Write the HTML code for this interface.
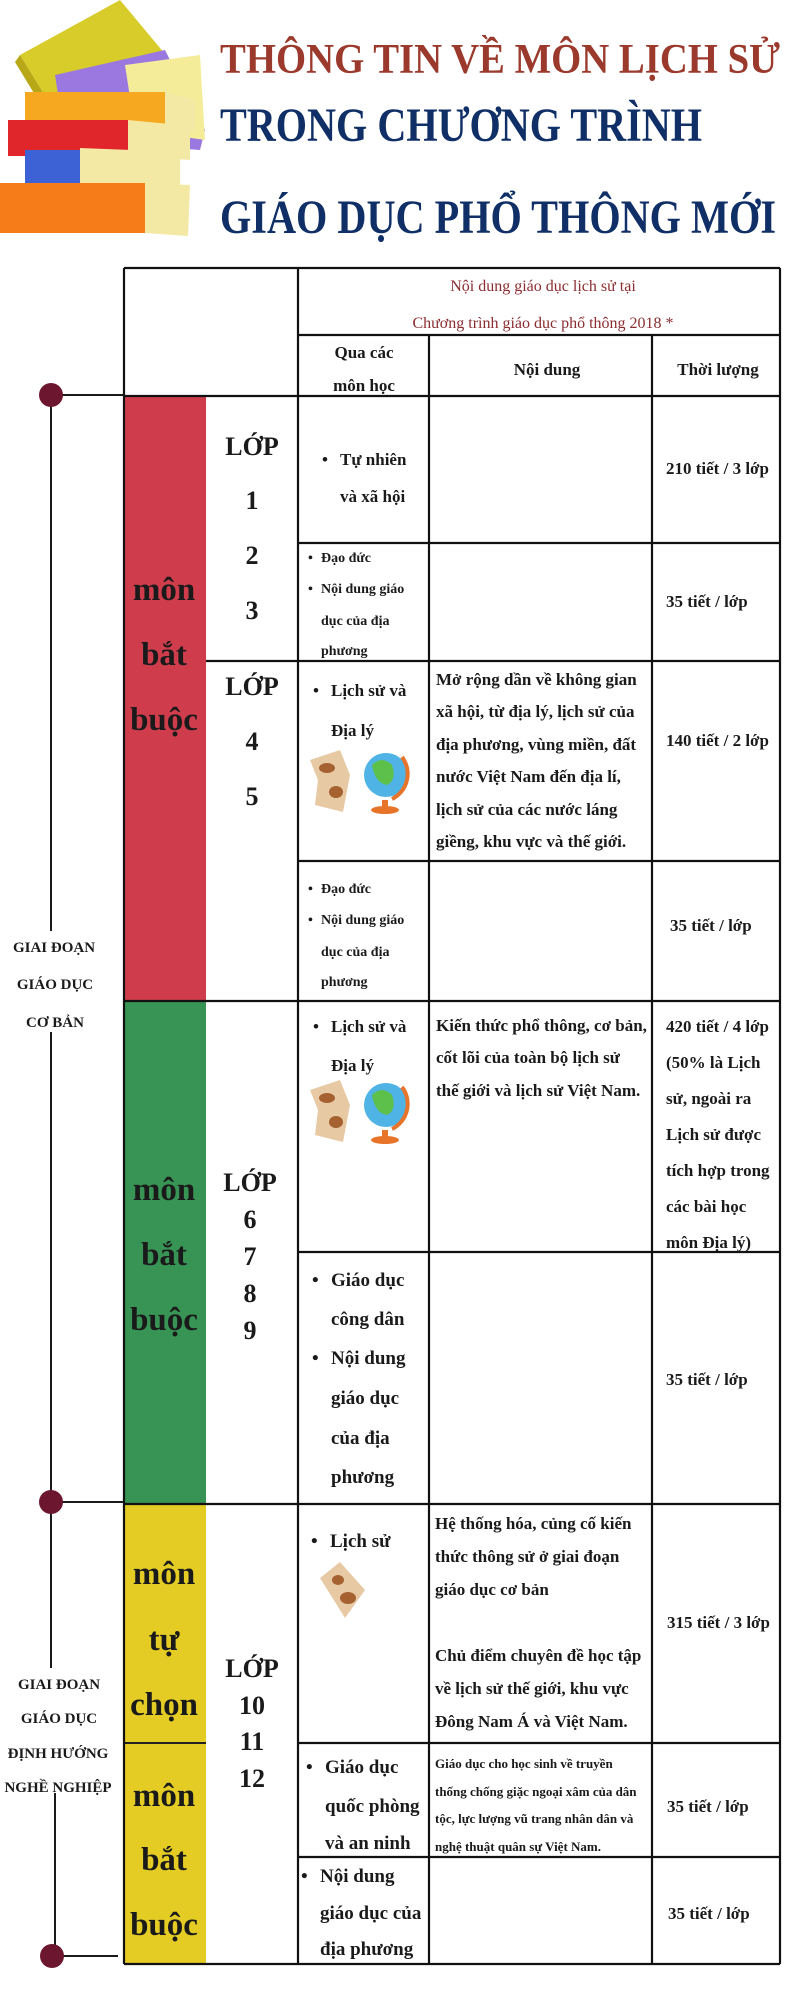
<!DOCTYPE html>
<html><head><meta charset="utf-8"><style>
html,body{margin:0;padding:0;background:#fff;width:800px;height:2000px;overflow:hidden}
svg{display:block}
text{font-family:"Liberation Serif",serif;font-weight:bold;fill:#1a1a1a}
.t{font-size:17px}
.b{font-size:19px}
.s{font-size:14px}
.x{font-size:13px}
.big{font-size:33px;text-anchor:middle}
.gr{font-size:26px;text-anchor:middle}
.lab{font-size:15px;text-anchor:middle}
</style></head><body>
<svg width="800" height="2000" viewBox="0 0 800 2000" xmlns="http://www.w3.org/2000/svg">
<!-- books -->
<g>
<polygon points="20,55 120,0 170,60 150,125 60,120" fill="#d8cc2a"/>
<polygon points="20,55 60,120 55,128 15,62" fill="#b8a818"/>
<polygon points="55,75 165,50 205,130 200,150 65,140" fill="#9a78e0"/>
<polygon points="125,65 200,55 205,140 135,130" fill="#f5ec9a"/>
<rect x="25" y="92" width="140" height="38" fill="#f5a820"/>
<polygon points="165,92 195,100 195,132 165,130" fill="#f3e9a4"/>
<rect x="8" y="120" width="120" height="36" fill="#e0262a"/>
<polygon points="128,120 190,126 190,160 128,156" fill="#f3e9a4"/>
<rect x="25" y="150" width="55" height="38" fill="#3d62d6"/>
<polygon points="80,148 180,152 180,188 80,186" fill="#f3e9a4"/>
<rect x="0" y="183" width="145" height="50" fill="#f57c18"/>
<polygon points="145,183 190,185 188,236 145,233" fill="#f3e9a4"/>
</g>
<!-- titles -->
<text x="220" y="73" font-size="42" textLength="560" lengthAdjust="spacingAndGlyphs" style="fill:#9b3a2c">THÔNG TIN VỀ MÔN LỊCH SỬ</text>
<text x="220" y="141" font-size="48" textLength="482" lengthAdjust="spacingAndGlyphs" style="fill:#0f2f66">TRONG CHƯƠNG TRÌNH</text>
<text x="220" y="233" font-size="48" textLength="556" lengthAdjust="spacingAndGlyphs" style="fill:#0f2f66">GIÁO DỤC PHỔ THÔNG MỚI</text>

<!-- colored bars -->
<rect x="123" y="396" width="83" height="605" fill="#cf3d4d"/>
<rect x="123" y="1001" width="83" height="503" fill="#379454"/>
<rect x="123" y="1504" width="83" height="460" fill="#e4cc24"/>
<line x1="123" y1="1743" x2="206" y2="1743" stroke="#222" stroke-width="2"/>

<!-- table lines -->
<g stroke="#111" stroke-width="2.2" fill="none">
<line x1="124" y1="268" x2="124" y2="1964"/>
<line x1="124" y1="268" x2="780" y2="268"/>
<line x1="298" y1="268" x2="298" y2="1964"/>
<line x1="780" y1="268" x2="780" y2="1964"/>
<line x1="298" y1="335" x2="780" y2="335"/>
<line x1="429" y1="335" x2="429" y2="1964"/>
<line x1="652" y1="335" x2="652" y2="1964"/>
<line x1="124" y1="396" x2="780" y2="396"/>
<line x1="298" y1="543" x2="780" y2="543"/>
<line x1="206" y1="661" x2="780" y2="661"/>
<line x1="298" y1="861" x2="780" y2="861"/>
<line x1="124" y1="1001" x2="780" y2="1001"/>
<line x1="298" y1="1252" x2="780" y2="1252"/>
<line x1="124" y1="1504" x2="780" y2="1504"/>
<line x1="298" y1="1743" x2="780" y2="1743"/>
<line x1="298" y1="1857" x2="780" y2="1857"/>
<line x1="124" y1="1964" x2="780" y2="1964"/>
</g>

<!-- timeline -->
<g stroke="#1a1a1a" stroke-width="2">
<line x1="51" y1="395" x2="124" y2="395"/>
<line x1="51" y1="1502" x2="124" y2="1502"/>
<line x1="51" y1="1956" x2="118" y2="1956"/>
<line x1="51" y1="395" x2="51" y2="931"/>
<line x1="51" y1="1032" x2="51" y2="1502"/>
<line x1="51" y1="1502" x2="51" y2="1668"/>
<line x1="55" y1="1793" x2="55" y2="1956"/>
</g>
<circle cx="51" cy="395" r="12" fill="#6d1630"/>
<circle cx="51" cy="1502" r="12" fill="#6d1630"/>
<circle cx="52" cy="1956" r="12" fill="#6d1630"/>
<text class="lab" x="54" y="952">GIAI ĐOẠN</text>
<text class="lab" x="55" y="989">GIÁO DỤC</text>
<text class="lab" x="55" y="1027">CƠ BẢN</text>
<text class="lab" x="59" y="1689">GIAI ĐOẠN</text>
<text class="lab" x="59" y="1723">GIÁO DỤC</text>
<text class="lab" x="58" y="1758">ĐỊNH HƯỚNG</text>
<text class="lab" x="58" y="1792">NGHỀ NGHIỆP</text>

<!-- header -->
<text x="543" y="291" font-size="16" text-anchor="middle" style="fill:#8a2c30;font-weight:normal">Nội dung giáo dục lịch sử tại</text>
<text x="543" y="328" font-size="16" text-anchor="middle" style="fill:#8a2c30;font-weight:normal">Chương trình giáo dục phổ thông 2018 *</text>
<text class="t" x="364" y="358" text-anchor="middle">Qua các</text>
<text class="t" x="364" y="391" text-anchor="middle">môn học</text>
<text class="t" x="547" y="375" text-anchor="middle">Nội dung</text>
<text class="t" x="718" y="375" text-anchor="middle">Thời lượng</text>

<!-- bar labels -->
<text class="big" x="164" y="600">môn</text>
<text class="big" x="164" y="665">bắt</text>
<text class="big" x="164" y="730">buộc</text>
<text class="big" x="164" y="1200">môn</text>
<text class="big" x="164" y="1265">bắt</text>
<text class="big" x="164" y="1330">buộc</text>
<text class="big" x="164" y="1584">môn</text>
<text class="big" x="164" y="1650">tự</text>
<text class="big" x="164" y="1715">chọn</text>
<text class="big" x="164" y="1806">môn</text>
<text class="big" x="164" y="1870">bắt</text>
<text class="big" x="164" y="1935">buộc</text>

<!-- grades -->
<text class="gr" x="252" y="455">LỚP</text>
<text class="gr" x="252" y="509">1</text>
<text class="gr" x="252" y="564">2</text>
<text class="gr" x="252" y="619">3</text>
<text class="gr" x="252" y="695">LỚP</text>
<text class="gr" x="252" y="750">4</text>
<text class="gr" x="252" y="805">5</text>
<text class="gr" x="250" y="1191">LỚP</text>
<text class="gr" x="250" y="1228">6</text>
<text class="gr" x="250" y="1265">7</text>
<text class="gr" x="250" y="1302">8</text>
<text class="gr" x="250" y="1339">9</text>
<text class="gr" x="252" y="1677">LỚP</text>
<text class="gr" x="252" y="1714">10</text>
<text class="gr" x="252" y="1750">11</text>
<text class="gr" x="252" y="1787">12</text>

<!-- row1 -->
<text class="t" x="322" y="465">•</text>
<text class="t" x="340" y="465">Tự nhiên</text>
<text class="t" x="340" y="502">và xã hội</text>
<text class="t" x="666" y="474">210 tiết / 3 lớp</text>
<!-- row2 -->
<text class="s" x="308" y="562">•</text><text class="s" x="321" y="562">Đạo đức</text>
<text class="s" x="308" y="593">•</text><text class="s" x="321" y="593">Nội dung giáo</text>
<text class="s" x="321" y="625">dục của địa</text>
<text class="s" x="321" y="655">phương</text>
<text class="t" x="666" y="607">35 tiết / lớp</text>
<!-- row3 -->
<text class="t" x="313" y="696">•</text>
<text class="t" x="331" y="696">Lịch sử và</text>
<text class="t" x="331" y="736">Địa lý</text>
<g id="map"><polygon points="310,760 340,750 350,775 343,812 315,805 318,780" fill="#e7c9a4"/>
<ellipse cx="327" cy="768" rx="8" ry="5" fill="#a5612f"/><ellipse cx="336" cy="792" rx="7" ry="6" fill="#a5612f"/></g>
<g><circle cx="386" cy="775" r="22" fill="#4fb3e6"/><path d="M372,765 q10,-10 20,0 q5,15 -5,20 q-12,-2 -15,-20z" fill="#5cc04a"/>
<path d="M402,757 a28,28 0 0 1 -10,42" stroke="#e8742a" stroke-width="4" fill="none"/>
<rect x="382" y="800" width="6" height="8" fill="#e8742a"/><ellipse cx="385" cy="810" rx="14" ry="4" fill="#e8742a"/></g>
<text class="t" x="436" y="685">Mở rộng dần về không gian</text>
<text class="t" x="436" y="717">xã hội, từ địa lý, lịch sử của</text>
<text class="t" x="436" y="750">địa phương, vùng miền, đất</text>
<text class="t" x="436" y="782">nước Việt Nam đến địa lí,</text>
<text class="t" x="436" y="815">lịch sử của các nước láng</text>
<text class="t" x="436" y="847">giềng, khu vực và thế giới.</text>
<text class="t" x="666" y="746">140 tiết / 2 lớp</text>
<!-- row4 -->
<text class="s" x="308" y="893">•</text><text class="s" x="321" y="893">Đạo đức</text>
<text class="s" x="308" y="924">•</text><text class="s" x="321" y="924">Nội dung giáo</text>
<text class="s" x="321" y="956">dục của địa</text>
<text class="s" x="321" y="986">phương</text>
<text class="t" x="670" y="931">35 tiết / lớp</text>
<!-- row5 -->
<text class="t" x="313" y="1032">•</text>
<text class="t" x="331" y="1032">Lịch sử và</text>
<text class="t" x="331" y="1071">Địa lý</text>
<g transform="translate(0,330)"><polygon points="310,760 340,750 350,775 343,812 315,805 318,780" fill="#e7c9a4"/>
<ellipse cx="327" cy="768" rx="8" ry="5" fill="#a5612f"/><ellipse cx="336" cy="792" rx="7" ry="6" fill="#a5612f"/>
<circle cx="386" cy="775" r="22" fill="#4fb3e6"/><path d="M372,765 q10,-10 20,0 q5,15 -5,20 q-12,-2 -15,-20z" fill="#5cc04a"/>
<path d="M402,757 a28,28 0 0 1 -10,42" stroke="#e8742a" stroke-width="4" fill="none"/>
<rect x="382" y="800" width="6" height="8" fill="#e8742a"/><ellipse cx="385" cy="810" rx="14" ry="4" fill="#e8742a"/></g>
<text class="t" x="436" y="1031">Kiến thức phổ thông, cơ bản,</text>
<text class="t" x="436" y="1063">cốt lõi của toàn bộ lịch sử</text>
<text class="t" x="436" y="1096">thế giới và lịch sử Việt Nam.</text>
<text class="t" x="666" y="1032">420 tiết / 4 lớp</text>
<text class="t" x="666" y="1068">(50% là Lịch</text>
<text class="t" x="666" y="1104">sử, ngoài ra</text>
<text class="t" x="666" y="1140">Lịch sử được</text>
<text class="t" x="666" y="1176">tích hợp trong</text>
<text class="t" x="666" y="1212">các bài học</text>
<text class="t" x="666" y="1248">môn Địa lý)</text>
<!-- row6 -->
<text class="b" x="312" y="1286">•</text><text class="b" x="331" y="1286">Giáo dục</text>
<text class="b" x="331" y="1325">công dân</text>
<text class="b" x="312" y="1364">•</text><text class="b" x="331" y="1364">Nội dung</text>
<text class="b" x="331" y="1404">giáo dục</text>
<text class="b" x="331" y="1444">của địa</text>
<text class="b" x="331" y="1483">phương</text>
<text class="t" x="666" y="1385">35 tiết / lớp</text>
<!-- row7 -->
<text class="b" x="311" y="1547">•</text><text class="b" x="330" y="1547">Lịch sử</text>
<polygon points="320,1578 340,1562 365,1590 345,1618" fill="#e7c9a4"/>
<ellipse cx="338" cy="1580" rx="6" ry="5" fill="#a5612f"/><ellipse cx="348" cy="1598" rx="8" ry="6" fill="#a5612f"/>
<text class="t" x="435" y="1529">Hệ thống hóa, củng cố kiến</text>
<text class="t" x="435" y="1562">thức thông sử ở giai đoạn</text>
<text class="t" x="435" y="1595">giáo dục cơ bản</text>
<text class="t" x="435" y="1661">Chủ điểm chuyên đề học tập</text>
<text class="t" x="435" y="1694">về lịch sử thế giới, khu vực</text>
<text class="t" x="435" y="1727">Đông Nam Á và Việt Nam.</text>
<text class="t" x="667" y="1628">315 tiết / 3 lớp</text>
<!-- row8 -->
<text class="b" x="306" y="1773">•</text><text class="b" x="325" y="1773">Giáo dục</text>
<text class="b" x="325" y="1812">quốc phòng</text>
<text class="b" x="325" y="1849">và an ninh</text>
<text class="x" x="435" y="1768">Giáo dục cho học sinh về truyền</text>
<text class="x" x="435" y="1796">thống chống giặc ngoại xâm của dân</text>
<text class="x" x="435" y="1823">tộc, lực lượng vũ trang nhân dân và</text>
<text class="x" x="435" y="1851">nghệ thuật quân sự Việt Nam.</text>
<text class="t" x="667" y="1812">35 tiết / lớp</text>
<!-- row9 -->
<text class="b" x="301" y="1882">•</text><text class="b" x="320" y="1882">Nội dung</text>
<text class="b" x="320" y="1919">giáo dục của</text>
<text class="b" x="320" y="1955">địa phương</text>
<text class="t" x="668" y="1919">35 tiết / lớp</text>
</svg>
</body></html>
